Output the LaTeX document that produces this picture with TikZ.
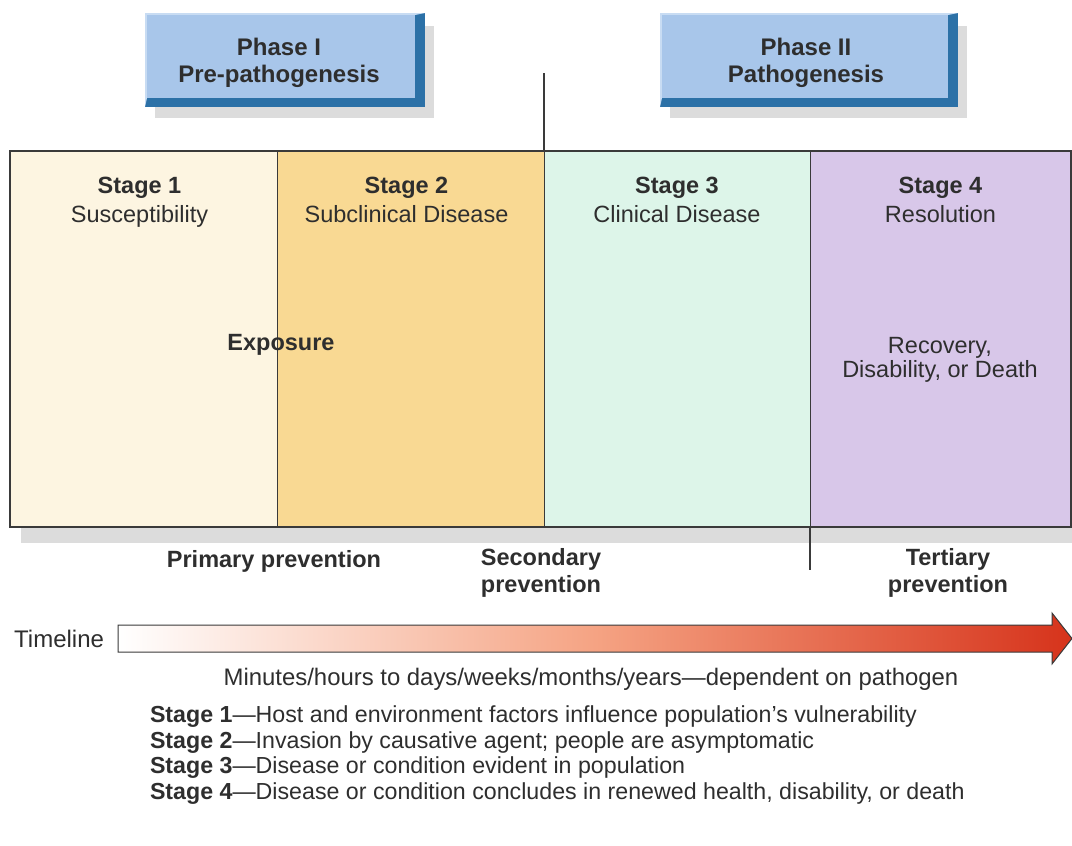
\documentclass[tikz,border=0pt]{standalone}
\usepackage{fontspec}
\setmainfont{Liberation Sans}
\usetikzlibrary{positioning, calc}

\definecolor{inkgray}{HTML}{2E2E2E}
\definecolor{linegray}{HTML}{3A3A3A}
\definecolor{stageone}{HTML}{FDF5E1}
\definecolor{stagetwo}{HTML}{F9D993}
\definecolor{stagethree}{HTML}{DDF5E9}
\definecolor{stagefour}{HTML}{D8C7E9}
\definecolor{phaseface}{HTML}{A8C6EA}
\definecolor{phaseedge}{HTML}{2C71A7}
\definecolor{phaselight}{HTML}{C8DCF3}
\definecolor{shadowgray}{HTML}{DCDCDC}
\definecolor{timemid}{HTML}{F5A383}
\definecolor{timeend}{HTML}{D6331B}

\pgfdeclarehorizontalshading{timeshade}{100bp}{color(0bp)=(white); color(25bp)=(white); color(50bp)=(timemid); color(75bp)=(timeend); color(100bp)=(timeend)}

\pgfdeclarelayer{background}
\pgfsetlayers{background,main}

\begin{document}
\begin{tikzpicture}[
		x=1pt, y=-1pt,
		every node/.style={inner sep=0pt, outer sep=0pt, text=inkgray, font=\fontsize{23.5}{28}\selectfont},
		phase/.style={align=center, font=\bfseries\fontsize{24}{27}\selectfont},
		cell/.style={draw=linegray, line width=1pt, minimum height=376pt, anchor=north west},
		stagehead/.style={align=center, font=\fontsize{23.5}{29}\selectfont},
		prevlabel/.style={align=center, font=\bfseries\fontsize{23.5}{27}\selectfont},
		keyline/.style={anchor=west, font=\fontsize{23.2}{27}\selectfont},
		tick/.style={draw=linegray, line width=1.2pt}
		]
		\useasboundingbox (0,0) rectangle (1072,846);
		
		% Phase titles (faces drawn on the background layer)
		\node[phase] at (279,63) (phaseone) {Phase I\\Pre-pathogenesis};
		\node[phase] at (806,63) (phasetwo) {Phase II\\Pathogenesis};
		\coordinate (phasesplit) at (544,73);
		
		% Stage columns
		\node[cell, fill=stageone, minimum width=267pt] at (10,151) (cellone) {};
		\node[cell, fill=stagetwo, minimum width=267pt] at (cellone.north east) (celltwo) {};
		\node[cell, fill=stagethree, minimum width=266pt] at (celltwo.north east) (cellthree) {};
		\node[cell, fill=stagefour, minimum width=261pt] at (cellthree.north east) (cellfour) {};
		\draw[line width=2pt, draw=linegray] (cellone.north west) rectangle (cellfour.south east);
		\draw[tick] (phasesplit) -- (celltwo.north east);
		
		\node[stagehead, below=26pt of cellone.north, xshift=-4pt] (headone) {\textbf{Stage 1}\\Susceptibility};
		\node[stagehead, below=26pt of celltwo.north, xshift=-4pt] (headtwo) {\textbf{Stage 2}\\Subclinical Disease};
		\node[stagehead, below=26pt of cellthree.north] (headthree) {\textbf{Stage 3}\\Clinical Disease};
		\node[stagehead, below=26pt of cellfour.north] (headfour) {\textbf{Stage 4}\\Resolution};
		\node[font=\bfseries\fontsize{23.5}{28}\selectfont] at (281,345) (exposure) {Exposure};
		\node[stagehead, font=\fontsize{23.5}{24}\selectfont] at (940,360) (outcome) {Recovery,\\Disability, or Death};
		
		% Prevention levels
		\coordinate (prevsplit) at (810,570);
		\draw[tick] (cellthree.south east) -- (prevsplit);
		\node[prevlabel] at (274,561) (primary) {Primary prevention};
		\node[prevlabel] at (541,573) (secondary) {Secondary\\prevention};
		\node[prevlabel] at (948,573) (tertiary) {Tertiary\\prevention};
		
		% Timeline
		\shade[shading=timeshade, draw=linegray, line width=1pt]
			(118,625) -- (1052,625) -- (1052,613) -- (1072,638.5) -- (1052,664) -- (1052,652) -- (118,652) -- cycle;
		\coordinate (timetail) at (118,638.5);
		\node[left=14pt of timetail, font=\fontsize{24}{28}\selectfont] (timelabel) {Timeline};
		\node[font=\fontsize{23.9}{28}\selectfont] at (591,679) (duration) {Minutes/hours to days/weeks/months/years—dependent on pathogen};
		
		% Key
		\node[keyline] at (150,717) (keyone) {\textbf{Stage 1}—Host and environment factors influence population's vulnerability};
		\node[keyline, below=25.5pt of keyone.west, anchor=west] (keytwo) {\textbf{Stage 2}—Invasion by causative agent; people are asymptomatic};
		\node[keyline, below=25.5pt of keytwo.west, anchor=west] (keythree) {\textbf{Stage 3}—Disease or condition evident in population};
		\node[keyline, below=25.5pt of keythree.west, anchor=west] (keyfour) {\textbf{Stage 4}—Disease or condition concludes in renewed health, disability, or death};
		
		% Shadows and bevelled phase faces
		\begin{pgfonlayer}{background}
			\fill[shadowgray] ($(cellone.south west)+(11,0)$) rectangle ($(cellfour.south east)+(2,16)$);
			\coordinate (faceonenw) at (147,15);
			\coordinate (faceonese) at (415,98);
			\coordinate (facetwonw) at (662,15);
			\coordinate (facetwose) at (948,98);
			\foreach \f in {faceone, facetwo} {
				\fill[shadowgray] ($(\f nw)+(8,11)$) rectangle ($(\f se)+(19,20)$);
				\fill[phaseedge] ($(\f nw)+(-2,-2)$) rectangle ($(\f se)+(10,9)$);
				\fill[phaselight] ($(\f nw)+(-2,-2)$) -- ($(\f nw -| \f se)+(10,-2)$) -- (\f nw -| \f se)
					-- (\f nw |- \f se) -- ($(\f nw |- \f se)+(-2,9)$) -- cycle;
				\fill[phaseface] (\f nw) rectangle (\f se);
			}
		\end{pgfonlayer}
		
	\end{tikzpicture}
\end{document}
